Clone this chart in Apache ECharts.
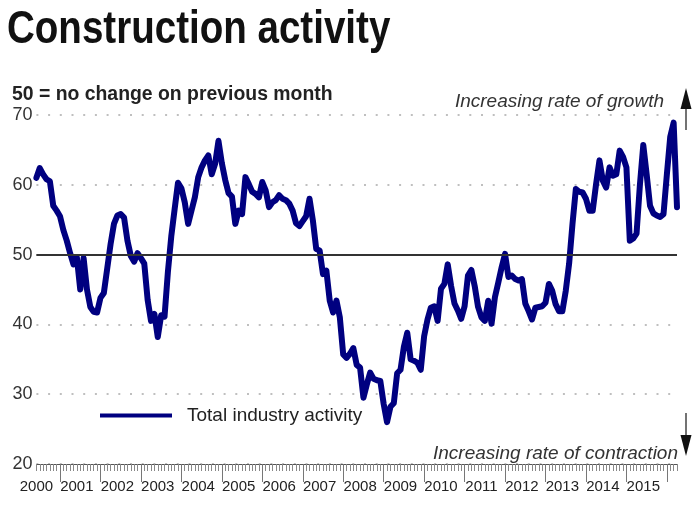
<!DOCTYPE html>
<html>
<head>
<meta charset="utf-8">
<script src="https://cdn.jsdelivr.net/npm/echarts@6/dist/echarts.min.js"></script>
<style>
html,body{margin:0;padding:0;background:#fff;}
#chart{width:700px;height:506px;}
</style>
</head>
<body>
<div id="chart"></div>
<script>
// Monthly series, June 2000 to April 2016
const startYear = 2000;
const startMonth = 6;
const yearLabels = ['2000','2001','2002','2003','2004','2005','2006','2007','2008','2009','2010','2011','2012','2013','2014','2015'];
const activity = [
  61.0,62.4,61.5,60.8,60.5,57.0,56.3,
  55.5,53.5,52.0,50.2,48.6,49.6,45.0,49.5,45.0,42.5,41.8,41.7,
  43.8,44.5,48.0,51.5,54.4,55.6,55.8,55.3,52.0,49.8,49.0,50.2,
  49.5,48.7,43.5,40.5,41.5,38.2,41.3,41.1,47.5,52.6,56.5,60.3,
  59.5,57.5,54.4,56.3,58.2,61.1,62.5,63.5,64.2,61.5,63.0,66.3,
  63.1,60.7,58.8,58.3,54.4,56.3,55.8,61.1,60.1,59.0,58.7,58.2,
  60.4,59.2,56.8,57.5,57.8,58.5,58.0,57.8,57.3,56.3,54.5,54.1,
  54.8,55.5,58.0,54.9,50.8,50.6,47.2,47.7,43.4,41.7,43.4,41.0,
  35.7,35.2,35.8,36.6,34.2,33.8,29.5,31.4,33.1,32.2,32.0,31.9,
  28.6,26.0,28.2,28.7,33.0,33.5,36.8,38.8,35.0,34.8,34.5,33.5,
  38.3,40.7,42.4,42.6,40.5,45.1,45.8,48.6,45.5,43.0,42.0,40.8,
  42.6,47.0,47.8,45.5,42.5,41.0,40.5,43.4,40.1,43.9,46.0,48.2,
  50.1,46.8,47.0,46.5,46.3,46.5,43.0,41.9,40.7,42.4,42.5,42.6,
  43.1,45.8,44.8,42.9,41.9,41.9,44.8,48.7,54.4,59.4,59.0,58.9,
  58.0,56.3,56.3,60.1,63.5,60.6,59.6,62.5,61.3,61.5,64.9,64.0,
  62.5,52.0,52.3,53.0,60.0,65.7,61.5,57.0,55.9,55.6,55.4,55.8,
  61.5,66.9,68.9,56.8
];
const months = activity.map(function (_, i) {
  const t = (startMonth - 1) + i;
  const y = startYear + Math.floor(t / 12);
  const m = (t % 12) + 1;
  return y + '-' + (m < 10 ? '0' + m : m);
});

const chart = echarts.init(document.getElementById('chart'), null, {renderer: 'canvas'});
const sans = '"Liberation Sans", Arial, Helvetica, sans-serif';
const option = {
  animation: false,
  backgroundColor: '#fff',
  textStyle: {fontFamily: sans},
  title: [
    {text: '50 = no change on previous month', left: 12, top: 85, padding: 0,
     textStyle: {fontSize: 19.4, fontWeight: 'bold', color: '#222', fontFamily: sans}}
  ],
  legend: {
    data: ['Total industry activity'], left: 100, top: 406, icon: 'rect',
    itemWidth: 72, itemHeight: 4, selectedMode: false, padding: 0,
    textStyle: {fontSize: 19, color: '#222', padding: [0, 0, 0, 10], fontFamily: sans}
  },
  grid: {left: 36.4, right: 23, top: 115, bottom: 42, containLabel: false, outerBoundsMode: 'none'},
  xAxis: [
    {type: 'category', data: months, boundaryGap: false, position: 'bottom',
     axisLine: {show: true, lineStyle: {color: '#555', width: 1}},
     axisTick: {show: true, interval: 0, length: 7, lineStyle: {color: '#888', width: 1}},
     axisLabel: {show: false}, splitLine: {show: false}},
    {type: 'category', data: months, boundaryGap: false, position: 'bottom', offset: 0,
     axisLine: {show: false},
     axisTick: {show: true, interval: function (i) { return i % 12 === 7; }, length: 18,
                lineStyle: {color: '#777', width: 1}},
     axisLabel: {show: true, interval: function (i) { return i % 12 === 0; },
                 formatter: function (v, i) { return yearLabels[i / 12]; },
                 fontSize: 15, color: '#222', margin: 15, fontFamily: sans},
     splitLine: {show: false}}
  ],
  yAxis: {
    type: 'value', min: 20, max: 70, interval: 10,
    axisLine: {show: false}, axisTick: {show: false},
    axisLabel: {fontSize: 18, color: '#333', margin: 4, fontFamily: sans},
    splitLine: {show: true, lineStyle: {type: [2, 9.7], color: '#aaa', width: 1.5}}
  },
  series: [
    {type: 'line', name: 'ref', data: [], z: 1, xAxisIndex: 0,
     markLine: {silent: true, symbol: 'none', label: {show: false},
                lineStyle: {color: '#333', width: 2, type: 'solid'},
                data: [{yAxis: 50}]}},
    {type: 'line', name: 'Total industry activity', data: activity, xAxisIndex: 0, z: 3,
     showSymbol: false, symbol: 'none',
     lineStyle: {color: '#000080', width: 6, join: 'round', cap: 'round'},
     itemStyle: {color: '#000080'}}
  ],
  graphic: [
    {type: 'text', x: 7, y: 30.5, scaleX: 0.82, scaleY: 1,
     style: {text: 'Construction activity', x: 0, y: 0, align: 'left', verticalAlign: 'middle',
      font: 'bold 47px ' + sans, fill: '#111'}},
    {type: 'text', style: {text: 'Increasing rate of growth', x: 664, y: 102, align: 'right', verticalAlign: 'middle',
      font: 'italic 19px ' + sans, fill: '#333'}},
    {type: 'text', style: {text: 'Increasing rate of contraction', x: 678, y: 454, align: 'right', verticalAlign: 'middle',
      font: 'italic 19px ' + sans, fill: '#333'}},
    {type: 'line', shape: {x1: 686, y1: 104, x2: 686, y2: 130}, style: {stroke: '#444', lineWidth: 1.5}},
    {type: 'polygon', shape: {points: [[686, 88], [680.5, 109], [691.5, 109]]}, style: {fill: '#111'}},
    {type: 'line', shape: {x1: 686, y1: 413, x2: 686, y2: 440}, style: {stroke: '#444', lineWidth: 1.5}},
    {type: 'polygon', shape: {points: [[686, 456], [680.5, 435], [691.5, 435]]}, style: {fill: '#111'}}
  ]
};
chart.setOption(option);
</script>
</body>
</html>
